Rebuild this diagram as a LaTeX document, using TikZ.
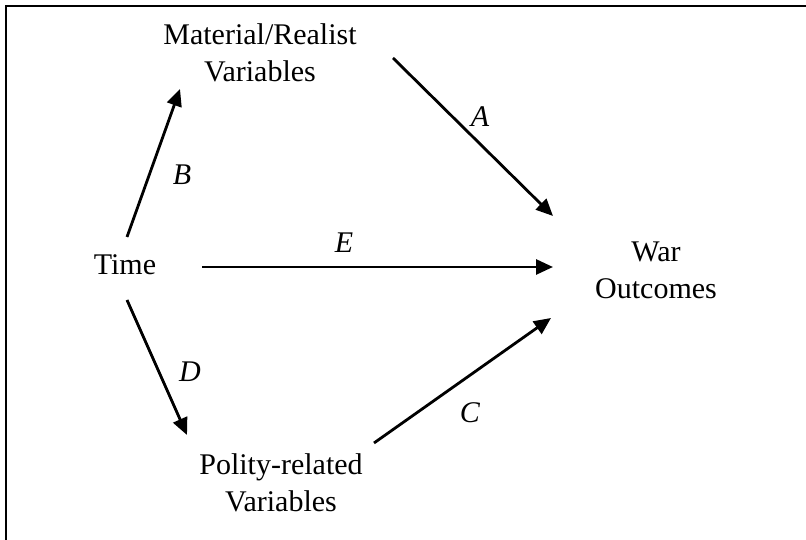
\documentclass[tikz,border=0pt]{standalone}
\usepackage{fontspec}
\setmainfont{Liberation Serif}
\usepackage{tikz}
\usetikzlibrary{arrows.meta,calc}

\begin{document}
\begin{tikzpicture}[x=1pt,y=1pt,>={Triangle[length=17pt,width=15pt]},
  every node/.style={font=\fontsize{30}{37}\selectfont,align=center,inner sep=0pt},
  link/.style={->,line width=2.8pt},
  lbl/.style={font=\fontsize{30}{37}\selectfont\itshape}]
\useasboundingbox (0,0) rectangle (806,540);
\clip (0,0) rectangle (806,540);
\draw[line width=2.4pt] (6,-20) -- (6,534) -- (830,534);
\node (mat) at (260,487) {Material/Realist\\Variables};
\node (time) at (125,275) {Time};
\node (war) at (656,270) {War\\Outcomes};
\node (pol) at (281,57) {Polity-related\\Variables};
\draw[link] ($(time)+(2,28)$) -- ($(mat)+(-80,-36)$);
\draw[link] ($(mat)+(133,-5)$) -- ($(war)+(-103,54)$);
\draw[link] ($(time)+(77,-2)$) -- ($(war)+(-103,3)$);
\draw[link] ($(time)+(2,-35)$) -- ($(pol)+(-94,48)$);
\draw[link] ($(pol)+(93,40)$) -- ($(war)+(-105,-48)$);
\node[lbl] (a) at (480,423) {A};
\node[lbl] (b) at (182,365) {B};
\node[lbl] (e) at (344,297) {E};
\node[lbl] (d) at (190,168) {D};
\node[lbl] (c) at (470,127) {C};
\end{tikzpicture}
\end{document}
